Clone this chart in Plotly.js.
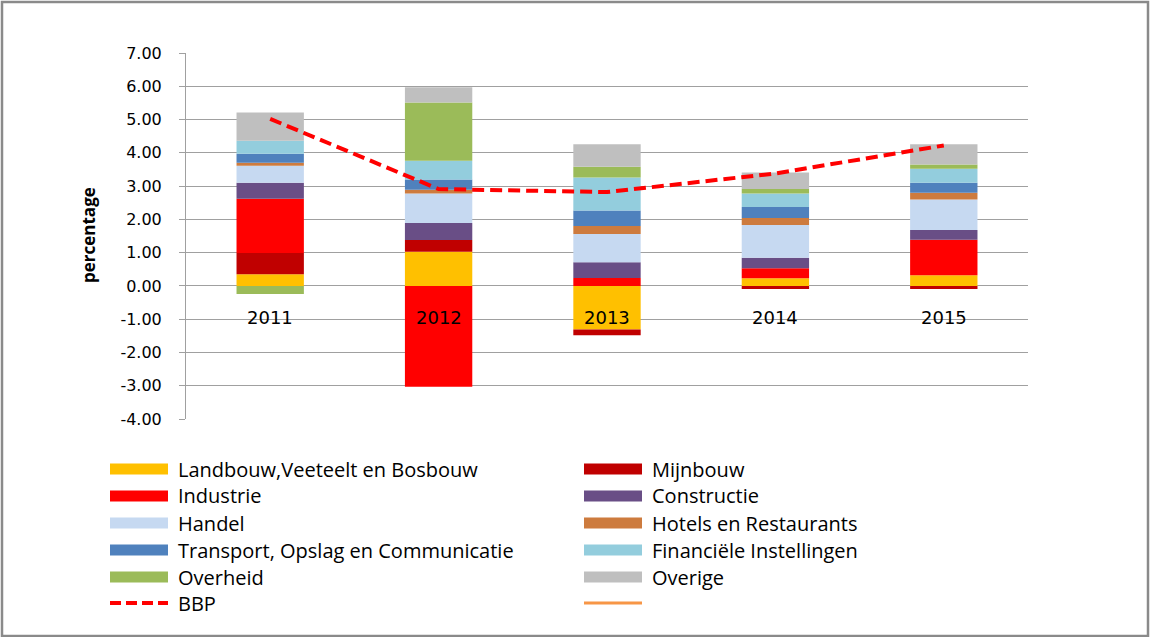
<!DOCTYPE html>
<html>
<head>
<meta charset="utf-8">
<script src="https://cdn.plot.ly/plotly-3.0.1.min.js"></script>
<style>html,body{margin:0;padding:0;background:#fff;}#chart{width:1150px;height:637px;}</style>
</head>
<body>
<div id="chart"></div>
<script>
var years = ['2011', '2012', '2013', '2014', '2015'];
var landbouw   = [0.35, 1.03, -1.31, 0.23, 0.32];
var mijnbouw   = [0.64, 0.35, -0.17, -0.09, -0.09];
var industrie  = [1.63, -3.03, 0.24, 0.30, 1.07];
var constructie= [0.48, 0.51, 0.47, 0.32, 0.29];
var handel     = [0.51, 0.89, 0.85, 0.98, 0.92];
var hotels     = [0.09, 0.11, 0.24, 0.21, 0.20];
var transport  = [0.27, 0.31, 0.47, 0.33, 0.30];
var financiele = [0.39, 0.56, 0.99, 0.41, 0.42];
var overheid   = [-0.24, 1.75, 0.32, 0.13, 0.13];
var overige    = [0.85, 0.46, 0.68, 0.50, 0.61];
var bbp        = [5.02, 2.91, 2.82, 3.38, 4.22];
var tickVals   = [-4, -3, -2, -1, 0, 1, 2, 3, 4, 5, 6, 7];

var seriesNames = ['Landbouw,Veeteelt en Bosbouw', 'Mijnbouw', 'Industrie', 'Constructie', 'Handel',
  'Hotels en Restaurants', 'Transport, Opslag en Communicatie', 'Financiële Instellingen', 'Overheid', 'Overige'];
var seriesValues = [landbouw, mijnbouw, industrie, constructie, handel, hotels, transport, financiele, overheid, overige];
var seriesColors = ['#FFC000', '#C00000', '#FF0000', '#694E86', '#C6D9F1', '#CD7B3E', '#4F81BD', '#93CDDD', '#9BBB59', '#BFBFBF'];

// plot area in pixels
var L = 186, R = 1028, T = 53, B = 419;
function px(x) { return (x - L) / (R - L); }
function py(y) { return (B - y) / (B - T); }

var traces = seriesNames.map(function (n, i) {
  return {type: 'bar', name: n, x: years, y: seriesValues[i],
    marker: {color: seriesColors[i], line: {width: 0}}, showlegend: false};
});
traces.push({type: 'scatter', mode: 'lines', name: 'BBP', x: years, y: bbp,
  line: {color: '#FF0000', width: 4, dash: '12px,6px'}, showlegend: false});

var shapes = [];
var annotations = [];
// outer border
shapes.push({type: 'rect', xref: 'paper', yref: 'paper', x0: px(2), x1: px(1148), y0: py(2), y1: py(636),
  line: {color: '#8A8A8A', width: 2.5}, fillcolor: 'rgba(0,0,0,0)'});

// category labels (x given as category index)
years.forEach(function (yr, i) {
  annotations.push({x: i, y: 0, xref: 'x', yref: 'y', text: yr, showarrow: false, yanchor: 'middle', yshift: -32,
    font: {family: 'DejaVu Sans', size: 18, color: '#000'}});
});
// y title
annotations.push({x: px(88), y: py(235), xref: 'paper', yref: 'paper', text: '<b>percentage</b>', textangle: -90,
  showarrow: false, xanchor: 'center', yanchor: 'middle', font: {family: 'Open Sans', size: 17, color: '#000'}});

// legend
var rowY = [469, 496, 523, 550, 577, 603];
var swX = [[110, 168], [584, 642]];
var txX = [176, 650];
var legFont = {family: 'Open Sans', size: 20, color: '#000'};
seriesNames.forEach(function (n, i) {
  var c = i % 2, r = Math.floor(i / 2);
  shapes.push({type: 'rect', xref: 'paper', yref: 'paper', x0: px(swX[c][0]), x1: px(swX[c][1]),
    y0: py(rowY[r] - 5.5), y1: py(rowY[r] + 5.5), fillcolor: seriesColors[i], line: {width: 0}});
  annotations.push({x: px(txX[c]), y: py(rowY[r]), xref: 'paper', yref: 'paper', text: n, showarrow: false,
    xanchor: 'left', yanchor: 'middle', font: legFont});
});
shapes.push({type: 'line', xref: 'paper', yref: 'paper', x0: px(swX[0][0]), x1: px(swX[0][1]), y0: py(rowY[5]), y1: py(rowY[5]),
  line: {color: '#FF0000', width: 4, dash: '11px,5px'}});
annotations.push({x: px(txX[0]), y: py(rowY[5]), xref: 'paper', yref: 'paper', text: 'BBP', showarrow: false,
  xanchor: 'left', yanchor: 'middle', font: legFont});
shapes.push({type: 'line', xref: 'paper', yref: 'paper', x0: px(swX[1][0]), x1: px(swX[1][1]), y0: py(rowY[5]), y1: py(rowY[5]),
  line: {color: '#F79646', width: 3}});

var layout = {
  width: 1150, height: 637,
  margin: {l: L, r: 1150 - R, t: T, b: 637 - B, pad: 0},
  paper_bgcolor: '#fff', plot_bgcolor: '#fff',
  barmode: 'relative', bargap: 0.6,
  showlegend: false,
  xaxis: {type: 'category', range: [-0.5, 4.5], autorange: false, showticklabels: false, showgrid: false,
    zeroline: false, showline: false, ticks: '', fixedrange: true},
  yaxis: {range: [-4, 7], autorange: false, tickvals: tickVals, ticktext: tickVals.map(function (v) { return v.toFixed(2); }),
    showgrid: true, gridcolor: '#A0A0A0', gridwidth: 1, zeroline: true, zerolinecolor: '#A0A0A0', zerolinewidth: 1,
    showline: true, linecolor: '#A0A0A0', linewidth: 1, ticks: 'outside', ticklen: 6, tickcolor: '#A0A0A0',
    ticklabelstandoff: 14, tickfont: {family: 'DejaVu Sans', size: 16, color: '#000'}, fixedrange: true},
  shapes: shapes,
  annotations: annotations
};

Plotly.newPlot('chart', traces, layout, {displayModeBar: false, staticPlot: true});
</script>
</body>
</html>
